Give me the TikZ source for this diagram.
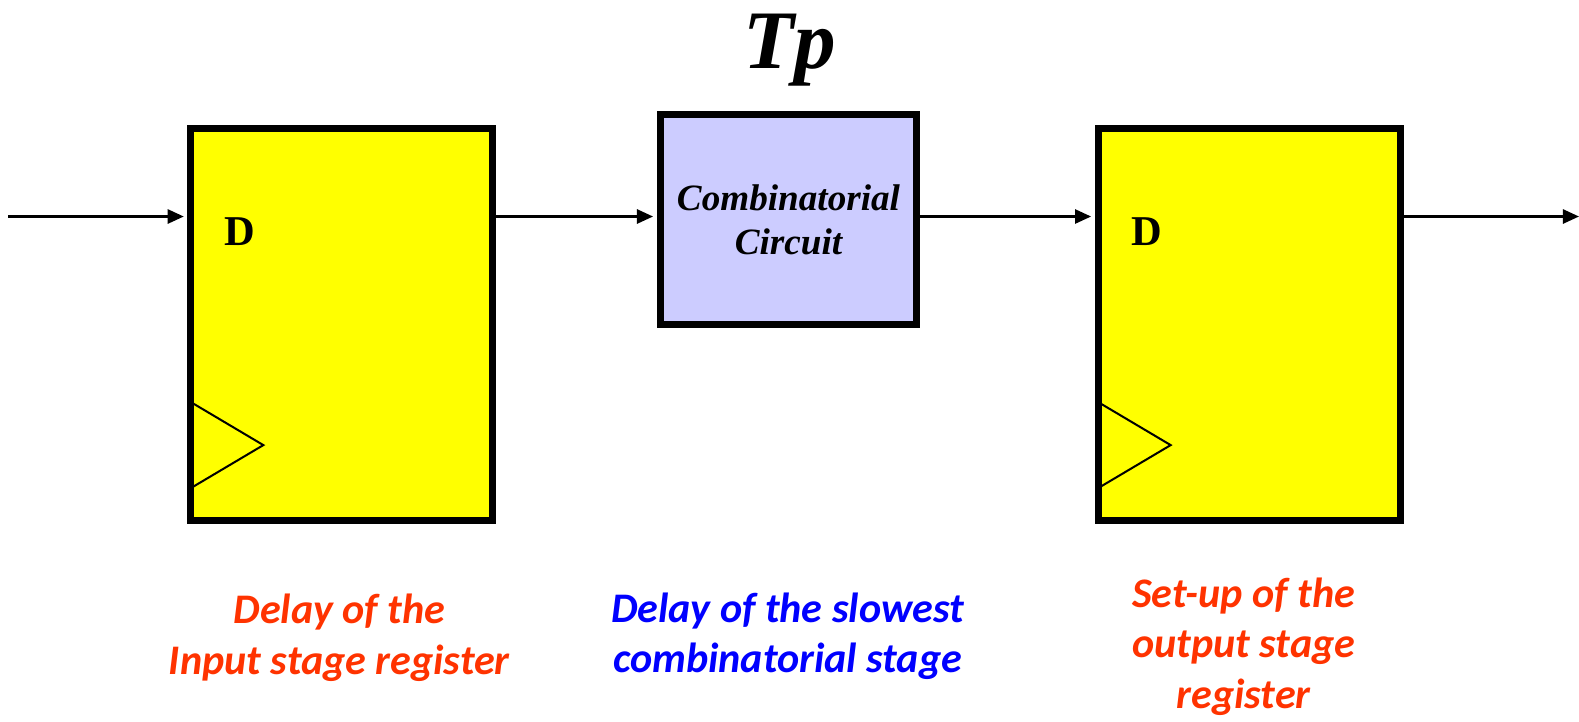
\documentclass[tikz,border=0pt]{standalone}
\usepackage{fontspec}
\setmainfont{Liberation Serif}
\newfontfamily\labelfont{Carlito}
\definecolor{regYellow}{RGB}{255,255,0}
\definecolor{combLilac}{RGB}{204,204,255}
\definecolor{noteRed}{RGB}{255,51,0}
\definecolor{noteBlue}{RGB}{0,0,255}
\usetikzlibrary{arrows.meta,positioning,calc}

\begin{document}
\begin{tikzpicture}[
        reg/.style={draw=black, fill=regYellow, line width=0.14cm,
          minimum width=6cm, minimum height=7.78cm, inner sep=0pt},
        comb/.style={draw=black, fill=combLilac, line width=0.14cm,
          minimum width=5.1cm, minimum height=4.18cm, inner sep=0pt,
          align=center, font=\fontsize{21}{25}\selectfont\bfseries\itshape},
        wire/.style={->, line width=0.05cm, shorten >=0.07cm},
        clk/.style={line width=0.04cm},
        note/.style={align=center, font=\fontsize{23.8}{28.5}\selectfont\labelfont\bfseries\itshape},
        >={Triangle[length=0.32cm,width=0.28cm]}
      ]
        \useasboundingbox (0,0) rectangle (31.36,-14.32);
        % registers and combinatorial block
        \node[reg] (lreg) at (6.79,-6.44) {};
        \node[reg] (rreg) at (24.81,-6.44) {};
        \node[comb] (comb) at (15.66,-4.36) {Combinatorial\\Circuit};
        % data inputs
        \node[font=\fontsize{24}{28}\selectfont\bfseries] (ld) at (4.76,-4.6) {D};
        \node[font=\fontsize{24}{28}\selectfont\bfseries] (rd) at (22.78,-4.6) {D};
        % clock triangles
        \draw[clk] ($(lreg.west)+(0.06,-1.54)$) -- ++(1.45,-0.86) -- ++(-1.45,-0.86);
        \draw[clk] ($(rreg.west)+(0.06,-1.54)$) -- ++(1.45,-0.86) -- ++(-1.45,-0.86);
        % wires
        \coordinate (in) at (0.16,-4.3);
        \coordinate (out) at (31.36,-4.3);
        \draw[wire] (in) -- (in -| lreg.west);
        \draw[wire] (in -| lreg.east) -- (in -| comb.west);
        \draw[wire] (in -| comb.east) -- (in -| rreg.west);
        \draw[wire, shorten >=0pt] (in -| rreg.east) -- (out);
        % labels
        \node[font=\fontsize{47}{52}\selectfont\bfseries\itshape, anchor=base] (tp) at (15.68,-1.36) {Tp};
        \node[note, text=noteRed] (lnote) at (6.74,-12.67) {Delay of the\\Input stage register};
        \node[note, text=noteBlue] (cnote) at (15.64,-12.64) {Delay of the slowest\\combinatorial stage};
        \node[note, text=noteRed] (rnote) at (24.7,-12.84) {Set-up of the\\output stage\\register};
      \end{tikzpicture}
\end{document}
